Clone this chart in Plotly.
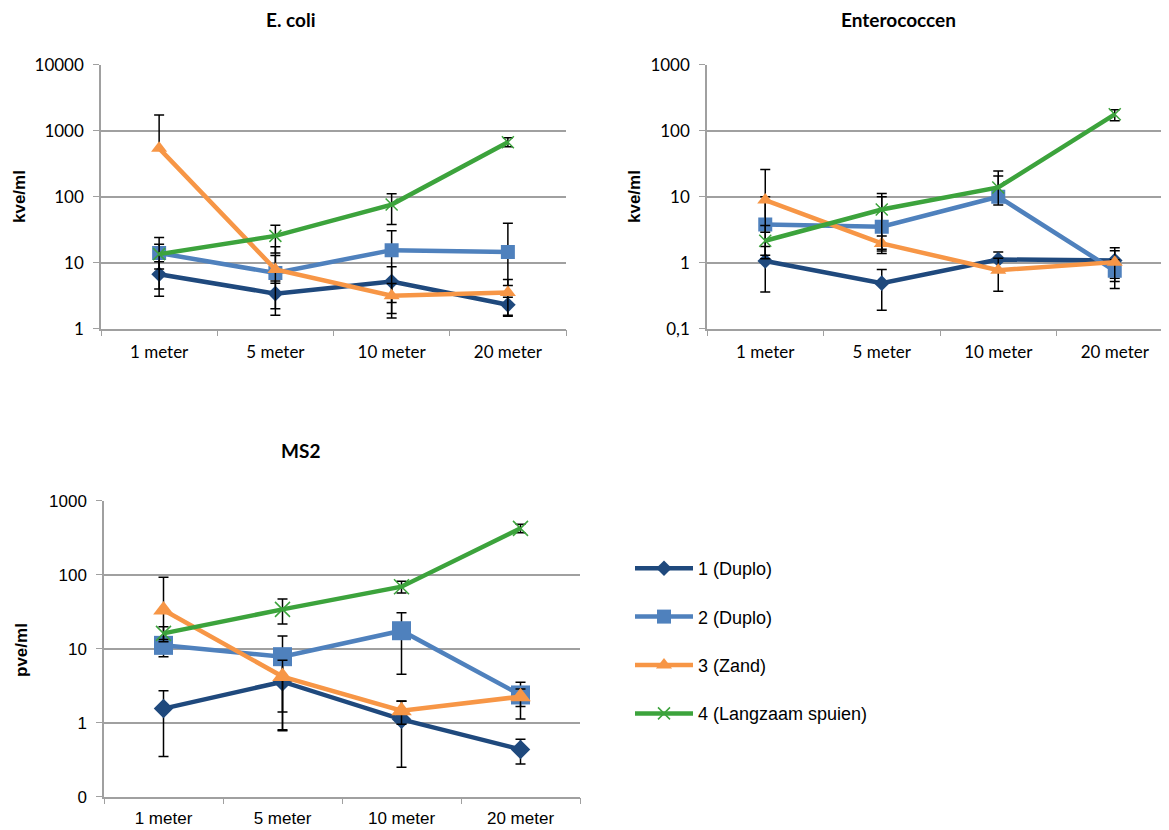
import plotly.graph_objects as go

categories = ["1 meter", "5 meter", "10 meter", "20 meter"]
series_names = ["1 (Duplo)", "2 (Duplo)", "3 (Zand)", "4 (Langzaam spuien)"]

# E. coli (kve/ml)
ecoli_vals = [[6.7, 3.4, 5.2, 2.3], [14, 7.0, 15.5, 14.5], [540, 7.9, 3.15, 3.55], [13.5, 25.5, 76, 670]]
ecoli_plus = [[3.6, 1.9, 3.5, 0.7], [10, 10.5, 15, 25], [1190, 5, 1.7, 2.0], [5.5, 11.5, 35, 110]]
ecoli_minus = [[3.6, 1.8, 3.5, 0.7], [10, 5, 13, 10], [20, 3, 1.7, 2.0], [5.5, 11.5, 38, 100]]

# Enterococcen (kve/ml)
entero_vals = [[1.06, 0.49, 1.12, 1.08], [3.8, 3.5, 10, 0.755], [8.9, 1.96, 0.77, 1.02], [2.15, 6.4, 13.8, 177]]
entero_plus = [[0.7, 0.3, 0.33, 0.6], [6.2, 6.5, 10.5, 0.35], [17, 0.58, 0.4, 0.5], [1.5, 4.8, 10.7, 30]]
entero_minus = [[0.7, 0.3, 0.33, 0.5], [2.5, 2.0, 1.5, 0.35], [6, 0.58, 0.4, 0.5], [1.0, 4.8, 6.3, 35]]

# MS2 (pve/ml)
ms2_vals = [[1.55, 3.58, 1.11, 0.436], [11.1, 7.8, 17.5, 2.37], [33.3, 4.2, 1.45, 2.25], [16.1, 34, 68.8, 423]]
ms2_plus = [[1.15, 2.8, 0.86, 0.16], [3.3, 7, 13, 1.15], [59, 2.8, 0.5, 0.6], [3.7, 13, 13, 57]]
ms2_minus = [[1.2, 2.8, 0.86, 0.16], [3.3, 7, 13, 1.25], [20, 2.8, 0.5, 0.6], [3.7, 12.5, 12, 53]]

colors = ["#1F497D", "#4F81BD", "#F79646", "#3CA33C"]
symbols = ["diamond", "square", "triangle-up", "x-thin"]

# page body has an 8px margin: the figure is drawn 8px right/down of the window corner
OFF = 8
W, H = 1169 - OFF, 830 - OFF
def px(x): return (x - OFF) / W
def py(y): return 1 - (y - OFF) / H

fig = go.Figure()

panels = [
    ("x", "y", ecoli_vals, ecoli_plus, ecoli_minus, [12, 14, 14, 12], True),
    ("x2", "y2", entero_vals, entero_plus, entero_minus, [12, 14, 14, 12], False),
    ("x3", "y3", ms2_vals, ms2_plus, ms2_minus, [15, 19, 18, 15], False),
]

for xa, ya, vals, plus, minus, msizes, show in panels:
    for i in range(4):
        mk = dict(symbol=symbols[i], size=msizes[i], color=colors[i])
        if symbols[i] == "x-thin":
            mk["line"] = dict(color=colors[i], width=1.5)
        fig.add_trace(go.Scatter(
            x=categories, y=vals[i], xaxis=xa, yaxis=ya,
            mode="lines+markers", name=series_names[i],
            legendgroup=series_names[i], showlegend=show,
            line=dict(color=colors[i], width=4.5),
            marker=mk,
            error_y=dict(type="data", array=plus[i], arrayminus=minus[i],
                         color="black", thickness=1.5, width=5, symmetric=False),
        ))

grid = "#A0A0A0"
tickfont12 = dict(family="Lato, Open Sans, sans-serif", size=17, color="black")
tickfont3 = dict(family="Liberation Sans, Arial, sans-serif", size=17, color="black")

def xaxis(domain, anchor, font, standoff, rng=None):
    d = dict(domain=domain, anchor=anchor, type="category", tickson="boundaries",
             ticks="outside", ticklen=6, tickcolor=grid, showline=True, linecolor=grid,
             linewidth=1.5, showgrid=False, tickfont=font, zeroline=False,
             automargin=False, ticklabelstandoff=standoff)
    d["range"] = rng if rng else [-0.5, 3.5]
    return d

def yaxis(domain, anchor, rng, vals, texts, font):
    return dict(domain=domain, anchor=anchor, type="log", range=rng, tickvals=vals,
                ticktext=texts, ticks="outside", ticklen=6, tickcolor=grid,
                showline=True, linecolor=grid, linewidth=1.5, showgrid=True,
                gridcolor=grid, gridwidth=1.5, tickfont=font, zeroline=False,
                automargin=False, ticklabelstandoff=6)

fig.update_layout(
    template="none",
    width=W, height=H, margin=dict(l=0, r=0, t=0, b=0, autoexpand=False),
    paper_bgcolor="white", plot_bgcolor="white", showlegend=True,
    xaxis=xaxis([px(101), px(566)], "y", tickfont12, 7),
    yaxis=yaxis([py(328.7), py(64.7)], "x", [0, 4], [1, 10, 100, 1000, 10000],
                ["1", "10", "100", "1000", "10000"], tickfont12),
    xaxis2=xaxis([px(707), 1.0], "y2", tickfont12, 7, [-0.5, -0.5 + 4 * 462 / 466]),
    yaxis2=yaxis([py(328.7), py(64.7)], "x2", [-1, 3], [0.1, 1, 10, 100, 1000],
                 ["0,1", "1", "10", "100", "1000"], tickfont12),
    xaxis3=xaxis([px(104), px(580)], "y3", tickfont3, 5),
    yaxis3=yaxis([py(796.7), py(500.7)], "x3", [-1, 3], [0.1, 1, 10, 100, 1000],
                 ["0", "1", "10", "100", "1000"], tickfont3),
    legend=dict(x=px(630), y=py(550), xanchor="left", yanchor="top",
                font=dict(family="Liberation Sans, Arial, sans-serif", size=18, color="black"),
                tracegroupgap=22, itemwidth=58, bgcolor="rgba(0,0,0,0)"),
)

title_font = dict(family="Lato, Open Sans, sans-serif", size=19, color="black")
ytitle_font = dict(family="Liberation Sans, Arial, sans-serif", size=17, color="black")
annos = [
    dict(text="<b>E. coli</b>", x=px(291), y=py(19), font=title_font),
    dict(text="<b>Enterococcen</b>", x=px(898), y=py(19), font=title_font),
    dict(text="<b>MS2</b>", x=px(300), y=py(450), font=title_font),
    dict(text="<b>kve/ml</b>", x=px(19), y=py(197), font=ytitle_font, textangle=-90),
    dict(text="<b>kve/ml</b>", x=px(634), y=py(197), font=ytitle_font, textangle=-90),
    dict(text="<b>pve/ml</b>", x=px(21), y=py(650), font=ytitle_font, textangle=-90),
]
for a in annos:
    a.update(xref="paper", yref="paper", showarrow=False, xanchor="center", yanchor="middle")
fig.update_layout(annotations=annos)

fig.write_html("out.html")
